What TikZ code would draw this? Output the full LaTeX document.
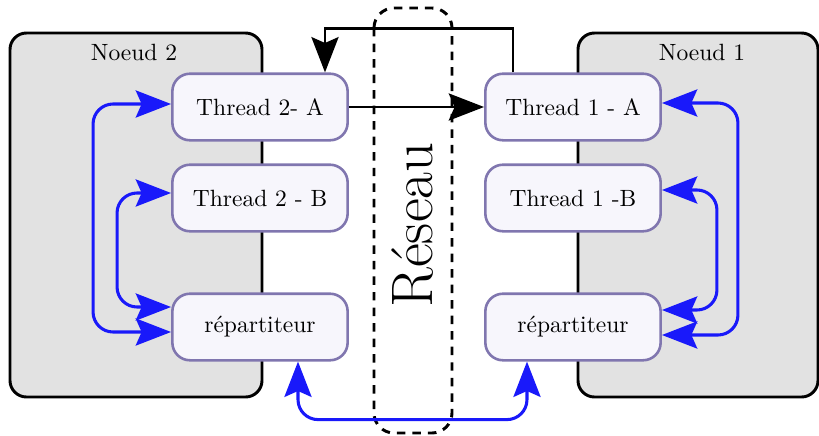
\documentclass[tikz,border=0pt]{standalone}
\usepackage{fontspec}
\usetikzlibrary{arrows.meta,calc}
\definecolor{nodeborder}{RGB}{128,118,175}
\definecolor{nodefill}{RGB}{247,246,252}
\definecolor{boxfill}{RGB}{226,226,226}
\definecolor{linkblue}{RGB}{25,25,250}
\begin{document}
\begin{tikzpicture}[x=0.425pt,y=-0.425pt,
  Big/.tip={Stealth[length=15pt,width=11.5pt,inset=2.5pt]},
  machine/.style={draw=black,line width=1.25pt,fill=boxfill,rounded corners=7pt},
  threadbox/.style={draw=nodeborder,fill=nodefill,line width=1.1pt,rounded corners=7.5pt,
    minimum width=74.5pt,minimum height=28.3pt,inner sep=0pt,font=\normalsize},
  netbox/.style={draw=black,dash pattern=on 3.6pt off 3pt,line width=1.25pt,rounded corners=8.5pt},
  blacklink/.style={draw=black,line width=1.25pt},
  bluelink/.style={draw=linkblue,line width=1.3pt,rounded corners=8.5pt,{Big}-{Big}},
  ]
\useasboundingbox (0,0) rectangle (819,436);
% machines
\path[machine] (10,33) rectangle (262,397);
\node (n2label) at (134,52) {Noeud 2};
\path[machine] (578,33) rectangle (818,397);
\node (n1label) at (702,52) {Noeud 1};
% network
\path[netbox] (374,8) rectangle (452,433);
\node[rotate=90,font=\Huge] (reseau) at (413,225) {Réseau};
% threads
\node[threadbox] (t2a) at (260,107) {Thread 2- A};
\node[threadbox] (t2b) at (260,198) {Thread 2 - B};
\node[threadbox] (r2)  at (260,327) {répartiteur};
\node[threadbox] (t1a) at (573,107) {Thread 1 - A};
\node[threadbox] (t1b) at (573,198) {Thread 1 -B};
\node[threadbox] (r1)  at (573,327) {répartiteur};
% black links
\draw[blacklink,-{Big}] (t2a.east) -- (t1a.west);
\draw[blacklink,-{Big}] ($(t1a.north)+(-60,0)$) -- ++(0,-44) -| ($(t2a.north)+(65,0)$);
% blue links, left
\draw[bluelink] ($(t2a.west)+(0,-3)$) -| ($(r2.west)+(-78,5)$) -- ($(r2.west)+(0,5)$);
\draw[bluelink] ($(t2b.west)+(0,-5)$) -| ($(r2.west)+(-54,-20)$) -- ($(r2.west)+(0,-20)$);
% blue links, right
\draw[bluelink] ($(t1a.east)+(0,-4)$) -| ($(r1.east)+(76,8)$) -- ($(r1.east)+(0,8)$);
\draw[bluelink] ($(t1b.east)+(0,-8)$) -| ($(r1.east)+(55,-17)$) -- ($(r1.east)+(0,-17)$);
% blue link, bottom
\draw[bluelink] ($(r2.south)+(38,0)$) -- ++(0,58) -| ($(r1.south)+(-46,0)$);
\end{tikzpicture}
\end{document}
